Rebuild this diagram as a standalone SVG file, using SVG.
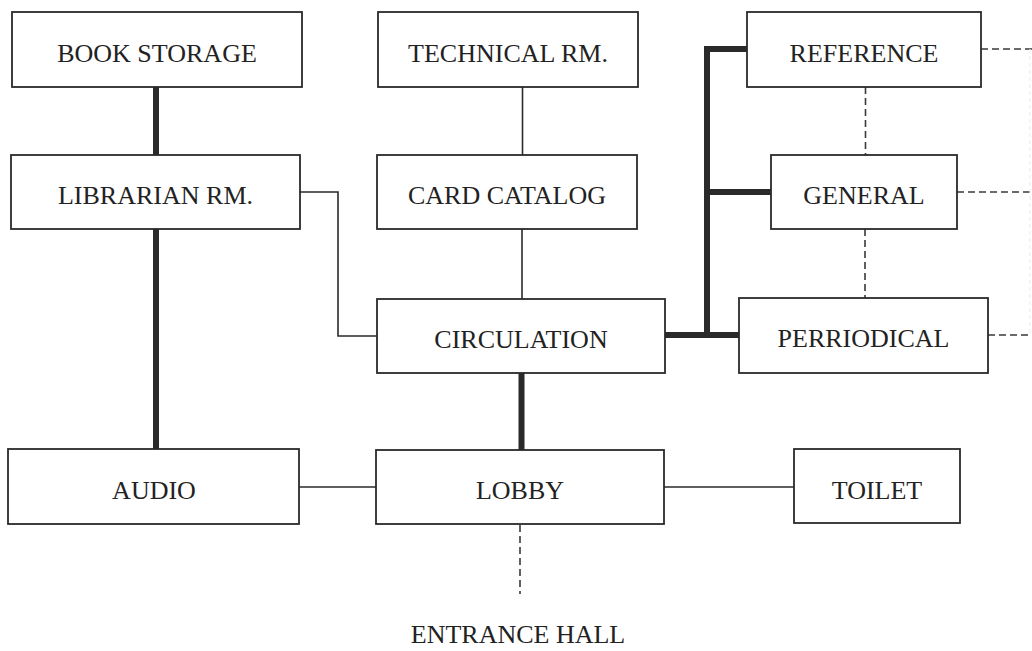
<svg xmlns="http://www.w3.org/2000/svg" width="1032" height="651" viewBox="0 0 1032 651">
  <style>
    .box { fill: #ffffff; stroke: #2a2a2a; stroke-width: 1.8; }
    .label { font-family: "Liberation Serif", "Times New Roman", serif; font-size: 26px; fill: #222222; text-anchor: middle; }
    .thin { fill: none; stroke: #2a2a2a; stroke-width: 1.6; }
    .thick { fill: none; stroke: #2a2a2a; stroke-width: 6; stroke-linecap: butt; }
    .dash { fill: none; stroke: #3a3a3a; stroke-width: 1.6; stroke-dasharray: 7 4; }
    .faint { fill: none; stroke: #eeeeee; stroke-width: 1.2; stroke-dasharray: 4 3; }
  </style>
  <rect width="1032" height="651" fill="#ffffff"/>

  <!-- connectors -->
  <g id="connectors">
    <!-- heavy links -->
    <line class="thick" x1="156" y1="87" x2="156" y2="155"/>
    <line class="thick" x1="156" y1="229" x2="156" y2="450"/>
    <line class="thick" x1="521.5" y1="373" x2="521.5" y2="450"/>
    <polyline class="thick" points="747,49 707,49 707,335"/>
    <line class="thick" x1="707" y1="192" x2="771" y2="192"/>
    <line class="thick" x1="665" y1="335" x2="739" y2="335"/>
    <!-- light links -->
    <polyline class="thin" points="300,192 338,192 338,336 377,336"/>
    <line class="thin" x1="522.5" y1="87" x2="522.5" y2="155"/>
    <line class="thin" x1="522" y1="229" x2="522" y2="299"/>
    <line class="thin" x1="299" y1="487" x2="376" y2="487"/>
    <line class="thin" x1="664" y1="487" x2="794" y2="487"/>
    <!-- dashed links -->
    <line class="dash" x1="865.5" y1="87" x2="865.5" y2="155"/>
    <line class="dash" x1="865" y1="229" x2="865" y2="298"/>
    <line class="dash" x1="981" y1="49" x2="1032" y2="49"/>
    <line class="dash" x1="957" y1="192" x2="1032" y2="192"/>
    <line class="dash" x1="988" y1="335" x2="1032" y2="335"/>
    <line class="faint" x1="1030" y1="49" x2="1030" y2="335"/>
    <line class="dash" x1="520" y1="525" x2="520" y2="594"/>
  </g>

  <!-- rooms -->
  <g id="book-storage">
    <rect class="box" x="12" y="12" width="290" height="75"/>
    <text class="label" x="157" y="62">BOOK STORAGE</text>
  </g>
  <g id="librarian-rm">
    <rect class="box" x="11" y="155" width="289" height="74"/>
    <text class="label" x="155.5" y="204">LIBRARIAN RM.</text>
  </g>
  <g id="technical-rm">
    <rect class="box" x="378" y="12" width="260" height="75"/>
    <text class="label" x="508" y="62">TECHNICAL RM.</text>
  </g>
  <g id="card-catalog">
    <rect class="box" x="377" y="155" width="260" height="74"/>
    <text class="label" x="507" y="204">CARD CATALOG</text>
  </g>
  <g id="circulation">
    <rect class="box" x="377" y="299" width="288" height="74"/>
    <text class="label" x="521" y="348">CIRCULATION</text>
  </g>
  <g id="reference">
    <rect class="box" x="747" y="12" width="234" height="75"/>
    <text class="label" x="864" y="62">REFERENCE</text>
  </g>
  <g id="general">
    <rect class="box" x="771" y="155" width="186" height="74"/>
    <text class="label" x="864" y="204">GENERAL</text>
  </g>
  <g id="perriodical">
    <rect class="box" x="739" y="298" width="249" height="75"/>
    <text class="label" x="863.5" y="347">PERRIODICAL</text>
  </g>
  <g id="audio">
    <rect class="box" x="8" y="449" width="291" height="75"/>
    <text class="label" x="154" y="499">AUDIO</text>
  </g>
  <g id="lobby">
    <rect class="box" x="376" y="450" width="288" height="74"/>
    <text class="label" x="520" y="499">LOBBY</text>
  </g>
  <g id="toilet">
    <rect class="box" x="794" y="449" width="166" height="74"/>
    <text class="label" x="877" y="499">TOILET</text>
  </g>
  <g id="entrance-hall">
    <text class="label" x="518" y="643">ENTRANCE HALL</text>
  </g>
</svg>
